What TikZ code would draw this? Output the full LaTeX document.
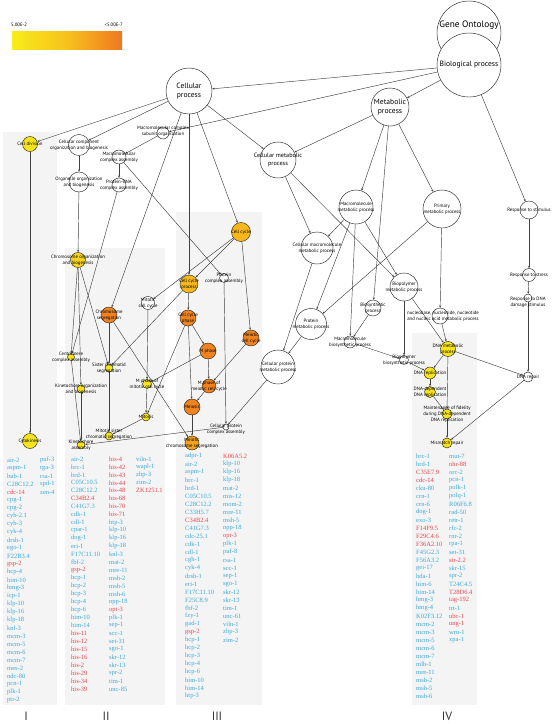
\documentclass[tikz,border=0pt]{standalone}
\usepackage{fontspec}
\setmainfont{Liberation Serif}
\newfontfamily\lblfont{PT Sans}
\usetikzlibrary{arrows.meta,backgrounds}

\definecolor{geneb}{HTML}{3AAADB}
\definecolor{gener}{HTML}{E4474E}
\definecolor{pvY}{HTML}{F7E31C}
\definecolor{pvL}{HTML}{F8D41D}
\definecolor{pvG}{HTML}{F6B71A}
\definecolor{pvA}{HTML}{F3A31F}
\definecolor{pvO}{HTML}{F08320}
\definecolor{legy}{HTML}{F8EC1A}
\definecolor{legm}{HTML}{F6C21C}
\definecolor{lego}{HTML}{F07722}
\definecolor{panel}{HTML}{F4F4F4}

\tikzset{
  term/.style={circle,draw=black!85,line width=0.45pt,fill=white,inner sep=0pt},
  lbl/.style={font=\lblfont\fontsize{4.8}{5.9}\selectfont,align=center,inner sep=0pt},
  lblm/.style={font=\lblfont\fontsize{6.2}{7.4}\selectfont,align=center,inner sep=0pt},
  lblb/.style={font=\lblfont\fontsize{7.6}{9}\selectfont,align=center,inner sep=0pt},
  lblg/.style={font=\lblfont\fontsize{9.3}{11}\selectfont,align=center,inner sep=0pt},
  link/.style={draw=black!75,line width=0.45pt,-{Stealth[length=2.4pt,width=2pt]}},
  gene/.style={anchor=west,inner sep=0pt,font=\fontsize{6.5}{7}\selectfont,text=geneb},
  roman/.style={font=\lblfont\fontsize{12}{14}\selectfont,text=black!80,inner sep=0pt}
}

\begin{document}
\begin{tikzpicture}[x=1pt,y=-1pt,line cap=round,line join=round]
  \useasboundingbox (0,0) rectangle (552,724);

  %% Background and grey panels.
  \begin{scope}[on background layer]
    \fill[white] (0,0) rectangle (552,724);
    \fill[panel] (3,132) rectangle (57,705);
    \fill[panel] (65,248) rectangle (165,705);
    \fill[panel] (176,212) rectangle (262,705);
    \fill[panel] (412,333) rectangle (477,705);
  \end{scope}

  % Legend bar.
  \shade[left color=legy,right color=lego,middle color=legm] (12,31) rectangle (122,49);
  \node[lbl,anchor=west] (pmax) at (11,25) {5.00E-2};
  \node[lbl,anchor=east] (pmin) at (123,25) {<5.00E-7};

  % Top terms.
  \node[term,minimum size=64,label={[lblg,yshift=8pt]center:Gene Ontology}] (go) at (469,33) {};
  \node[term,minimum size=64,label={[lblb]center:Biological process}] (bioproc) at (469,65) {};
  \node[term,minimum size=46,label={[lblb]center:{Cellular\\process}}] (celproc) at (189,91) {};
  \node[term,minimum size=38,label={[lblb]center:{Metabolic\\process}}] (metproc) at (390,107) {};
  \node[term,minimum size=36,label={[lblm]center:{Cellular metabolic\\process}}] (celmet) at (278,160) {};

  % Cell division and organization terms.
  \node[term,fill=pvY,minimum size=15,label={[lbl]center:Cell division}] (celldiv) at (30,144) {};
  \node[term,minimum size=21,label={[lbl]center:{Cellular component\\organization and biogenesis}}] (ccorg) at (79,145) {};
  \node[term,minimum size=12,label={[lbl,yshift=2pt]center:{Macromolecular complex\\subunit organization}}] (mcsub) at (163,133) {};
  \node[term,minimum size=14,label={[lbl]center:{Macromolecular\\complex assembly}}] (mcasm) at (119,157) {};
  \node[term,minimum size=20,label={[lbl]center:{Organelle organization\\and biogenesis}}] (orgorg) at (79,182) {};
  \node[term,minimum size=14,label={[lbl]center:{Protein-DNA\\complex assembly}}] (pdna) at (119,185) {};
  \node[term,fill=pvL,minimum size=15,label={[lbl]center:{Chromosome organization\\and biogenesis}}] (chrorg) at (78,260) {};
  \node[term,fill=pvY,minimum size=7,label={[lbl]center:{Centromere\\complex assembly}}] (centro) at (71,357) {};
  \node[term,fill=pvY,minimum size=8,label={[lbl]center:{Kinetochore organization\\and biogenesis}}] (kinorg) at (81,389) {};
  \node[term,fill=pvY,minimum size=8,label={[lbl]center:{Kinetochore\\assembly}}] (kinasm) at (81,445) {};
  \node[term,fill=pvY,minimum size=15,label={[lbl]center:Cytokinesis}] (cytok) at (30,441) {};

  % Cell cycle terms.
  \node[term,fill=pvG,minimum size=19,label={[lbl]center:Cell cycle}] (cellcyc) at (241,232) {};
  \node[term,fill=pvG,minimum size=18,label={[lbl]center:{Cell cycle\\process}}] (ccproc) at (189,284) {};
  \node[term,minimum size=9,label={[lbl]center:{Protein\\complex assembly}}] (pcasm) at (224,278) {};
  \node[term,minimum size=13,label={[lbl]center:{Mitotic\\cell cycle}}] (mitcc) at (148,303) {};
  \node[term,fill=pvO,minimum size=16,label={[lbl]center:{Chromosome\\segregation}}] (chrseg) at (109,315) {};
  \node[term,fill=pvO,minimum size=16,label={[lbl]center:{Cell cycle\\phase}}] (ccphase) at (188,318) {};
  \node[term,fill=pvO,minimum size=16,label={[lbl]center:{Meiotic\\cell cycle}}] (meicc) at (251,338) {};
  \node[term,fill=pvO,minimum size=16,label={[lbl]center:M phase}] (mphase) at (208,351) {};
  \node[term,fill=pvY,minimum size=8,label={[lbl]center:{Sister chromatid\\segregation}}] (sisseg) at (109,368) {};
  \node[term,fill=pvY,minimum size=9,label={[lbl]center:{M phase of\\mitotic cell cycle}}] (mphmit) at (147,384) {};
  \node[term,fill=pvO,minimum size=14,label={[lbl]center:{M phase of\\meiotic cell cycle}}] (mphmei) at (209,386) {};
  \node[term,fill=pvO,minimum size=16,label={[lbl]center:Meiosis}] (meiosis) at (192,407) {};
  \node[term,fill=pvY,minimum size=8,label={[lbl]center:Mitosis}] (mitosis) at (146,417) {};
  \node[term,minimum size=6,label={[lbl,yshift=-2pt]center:{Cellular protein\\complex assembly}}] (cpcasm) at (226,427) {};
  \node[term,fill=pvY,minimum size=8,label={[lbl,yshift=2pt]center:{Mitotic sister\\chromatid segregation}}] (mitsis) at (109,436) {};
  \node[term,fill=pvA,minimum size=14,label={[lbl]center:{Meiotic\\chromosome segregation}}] (meiseg) at (192,443) {};

  % Metabolic terms.
  \node[term,minimum size=34,label={[lbl]center:{Macromolecule\\metabolic process}}] (macmet) at (356,207) {};
  \node[term,minimum size=38,label={[lbl]center:{Primary\\metabolic process}}] (primet) at (442,209) {};
  \node[term,minimum size=32,label={[lbl]center:{Cellular macromolecule\\metabolic process}}] (cmacmet) at (317,248) {};
  \node[term,minimum size=28,label={[lbl]center:{Biopolymer\\metabolic process}}] (biopmet) at (404,287) {};
  \node[term,minimum size=16,label={[lbl]center:{Biosynthetic\\process}}] (biosyn) at (373,308) {};
  \node[term,minimum size=31,label={[lbl]center:{Protein\\metabolic process}}] (protmet) at (311,324) {};
  \node[term,minimum size=16,label={[lbl,xshift=3pt]center:{nucleobase, nucleoside, nucleotide\\and nucleic acid metabolic process}}] (nucmet) at (440,316) {};
  \node[term,minimum size=12,label={[lbl]center:{Macromolecule\\biosynthetic process}}] (macbio) at (350,342) {};
  \node[term,minimum size=34,label={[lbl]center:{Cellular protein\\metabolic process}}] (cprotmet) at (278,367) {};
  \node[term,fill=pvY,minimum size=15,label={[lbl]center:{DNA metabolic\\process}}] (dnamet) at (448,349) {};
  \node[term,minimum size=9,label={[lbl]center:{Biopolymer\\biosynthetic process}}] (biopbio) at (404,360) {};
  \node[term,fill=pvY,minimum size=12,label={[lbl]center:DNA replication}] (dnarep) at (430,373) {};
  \node[term,fill=pvY,minimum size=11,label={[lbl]center:{DNA-dependent\\DNA replication}}] (dnadep) at (430,392) {};
  \node[term,fill=pvY,minimum size=10,label={[lbl]center:{Maintenance of fidelity\\during DNA-dependent\\DNA replication}}] (fidel) at (447,414) {};
  \node[term,fill=pvY,minimum size=10,label={[lbl]center:Mismatch repair}] (mismatch) at (447,443) {};

  % Stimulus terms.
  \node[term,minimum size=18,label={[lbl]center:Response to stimulus}] (respstim) at (529,210) {};
  \node[term,minimum size=13,label={[lbl]center:Response to stress}] (respstress) at (529,275) {};
  \node[term,minimum size=8,label={[lbl,yshift=-4pt]center:{Response to DNA\\damage stimulus}}] (respdna) at (528,298) {};
  \node[term,minimum size=10,label={[lbl]center:DNA repair}] (dnarepair) at (528,377) {};

  %% Draw connectors.
  \begin{scope}[on background layer]
    \foreach \a/\b in {bioproc/celproc,bioproc/mcsub,bioproc/metproc,bioproc/respstim,
      celproc/celldiv,celproc/ccorg,celproc/celmet,celproc/cellcyc,celproc/ccproc,celproc/chrseg,
      celldiv/cytok,ccorg/orgorg,orgorg/chrorg,mcsub/mcasm,mcasm/pdna,mcasm/pcasm,pdna/centro,
      chrorg/centro,chrorg/kinorg,chrorg/sisseg,centro/kinasm,kinorg/kinasm,
      cellcyc/ccproc,cellcyc/mitcc,cellcyc/meicc,ccproc/ccphase,ccproc/sisseg,
      chrseg/sisseg,chrseg/meiseg,ccphase/mphase,ccphase/meiosis,ccphase/mitosis,
      mphase/mphmit,mphase/mphmei,meicc/mphmei,mphmei/meiosis,meiosis/meiseg,
      mitcc/mphmit,mphmit/mitosis,mitosis/mitsis,sisseg/mitsis,pcasm/cpcasm,cpcasm/kinasm,
      cprotmet/cpcasm,metproc/celmet,metproc/macmet,metproc/primet,metproc/biosyn,
      celmet/cmacmet,celmet/biopmet,macmet/cmacmet,macmet/protmet,macmet/biopmet,macmet/macbio,
      primet/protmet,primet/nucmet,cmacmet/cprotmet,protmet/cprotmet,biosyn/macbio,
      macbio/biopbio,biopmet/biopbio,biopmet/dnamet,nucmet/dnamet,biopbio/dnarep,
      dnamet/dnarep,dnamet/fidel,dnamet/dnarepair,dnarep/dnadep,dnadep/fidel,fidel/mismatch,
      respstim/respstress,respstress/respdna,respdna/dnarepair,dnarepair/mismatch} {
      \draw[link] (\a) -- (\b);
    }
  \end{scope}

  %% Gene lists.
  % Column I.
  \foreach \gene/\tint [count=\i from 0] in {air-2/b,aspm-1/b,bub-1/b,C28C12.2/b,cdc-14/r,
    cpg-1/b,cpg-2/b,cyb-2.1/b,cyb-3/b,cyk-4/b,drsh-1/b,ego-1/b,F22B3.4/b,gsp-2/r,hcp-4/b,
    him-10/b,hmg-3/b,icp-1/b,klp-10/b,klp-16/b,klp-18/b,knl-3/b,mcm-3/b,mcm-5/b,mcm-6/b,
    mcm-7/b,mes-2/b,ndc-80/b,pcn-1/b,plk-1/b,ptr-2/b} {
    \node[gene,text=gene\tint] (Ia\i) at (7,460+8*\i) {\gene};
  }
  \foreach \gene [count=\i from 0] in {puf-3,rga-3,rsa-1,spd-1,zen-4} {
    \node[gene] (Ib\i) at (40,460+8*\i) {\gene};
  }

  % Column II.
  \foreach \gene/\tint [count=\i from 0] in {air-2/b,brc-1/b,brd-1/b,C05C10.5/b,C28C12.2/b,
    C34B2.4/r,C41G7.3/b,cdk-1/b,cdl-1/b,cpar-1/b,dog-1/b,eri-1/b,F17C11.10/b,fbf-2/b,gsp-2/r,
    hcp-1/b,hcp-2/b,hcp-3/b,hcp-4/b,hcp-6/b,him-10/b,him-14/b,his-11/r,his-12/r,his-15/r,
    his-16/r,his-2/r,his-29/r,his-34/r,his-39/r} {
    \node[gene,text=gene\tint] (IIa\i) at (71,459+7.93*\i) {\gene};
  }
  \foreach \gene/\tint [count=\i from 0] in {his-4/r,his-42/r,his-43/r,his-44/r,his-48/r,
    his-68/r,his-70/r,his-71/r,htp-3/b,klp-10/b,klp-16/b,klp-18/b,knl-3/b,mat-2/b,mre-11/b,
    msh-2/b,msh-5/b,msh-6/b,npp-18/b,opt-3/r,plk-1/b,sep-1/b,scc-1/b,set-31/b,sgo-1/b,
    skr-12/b,skr-13/b,spr-2/b,tim-1/b,unc-85/b} {
    \node[gene,text=gene\tint] (IIb\i) at (109,459+7.93*\i) {\gene};
  }
  \foreach \gene/\tint [count=\i from 0] in {viln-1/b,wapl-1/b,zhp-3/b,zim-2/b,ZK1251.1/r} {
    \node[gene,text=gene\tint] (IIc\i) at (136,459+7.93*\i) {\gene};
  }

  % Column III.
  \foreach \gene/\tint [count=\i from 0] in {adpr-1/b,air-2/b,aspm-1/b,brc-1/b,brd-1/b,
    C05C10.5/b,C28C12.2/b,C33H5.7/b,C34B2.4/r,C41G7.3/b,cdc-25.1/b,cdk-1/b,cdl-1/b,cgh-1/b,
    cyk-4/b,drsh-1/b,eri-1/b,F17C11.10/b,F25C8.9/b,fbf-2/b,fzy-1/b,gad-1/b,gsp-2/r,hcp-1/b,
    hcp-2/b,hcp-3/b,hcp-4/b,hcp-6/b,him-10/b,him-14/b,htp-3/b} {
    \node[gene,text=gene\tint] (IIIa\i) at (185,456+8*\i) {\gene};
  }
  \foreach \gene/\tint [count=\i from 0] in {K06A5.2/r,klp-10/b,klp-16/b,klp-18/b,mat-2/b,
    mis-12/b,mom-2/b,mre-11/b,msh-5/b,npp-18/b,opt-3/r,plk-1/b,puf-8/b,rsa-1/b,scc-1/b,
    sep-1/b,sgo-1/b,skr-12/b,skr-13/b,tim-1/b,unc-61/b,viln-1/b,zhp-3/b,zim-2/b} {
    \node[gene,text=gene\tint] (IIIb\i) at (223,456+8*\i) {\gene};
  }

  % Column IV.
  \foreach \gene/\tint [count=\i from 0] in {brc-1/b,brd-1/b,C35E7.9/r,cdc-14/r,cku-80/b,
    crn-1/b,crn-6/b,dog-1/b,exo-3/b,F14F9.5/r,F29C4.6/r,F36A2.10/r,F45G2.3/b,F56A3.2/b,
    gei-17/b,hda-1/b,him-6/b,him-14/b,hmg-3/b,hmg-4/b,K02F3.12/b,mcm-2/b,mcm-3/b,mcm-5/b,
    mcm-6/b,mcm-7/b,mlh-1/b,mre-11/b,msh-2/b,msh-5/b,msh-6/b} {
    \node[gene,text=gene\tint] (IVa\i) at (416,456+8*\i) {\gene};
  }
  \foreach \gene/\tint [count=\i from 0] in {mut-7/b,nhr-88/r,orc-2/b,pcn-1/b,polk-1/b,
    polq-1/b,R06F6.8/b,rad-50/b,retr-1/b,rfc-2/b,rnr-2/b,rpa-1/b,set-31/b,sir-2.2/r,
    skr-15/b,spr-2/b,T24C4.5/b,T28D6.4/r,tag-192/r,trt-1/b,ubc-1/r,ung-1/r,wrn-1/b,xpa-1/b} {
    \node[gene,text=gene\tint] (IVb\i) at (449,456+8*\i) {\gene};
  }

  % Panel numbers.
  \node[roman] (numI) at (26,716) {I};
  \node[roman] (numII) at (106,716) {II};
  \node[roman] (numIII) at (217,716) {III};
  \node[roman] (numIV) at (447,716) {IV};
\end{tikzpicture}
\end{document}
